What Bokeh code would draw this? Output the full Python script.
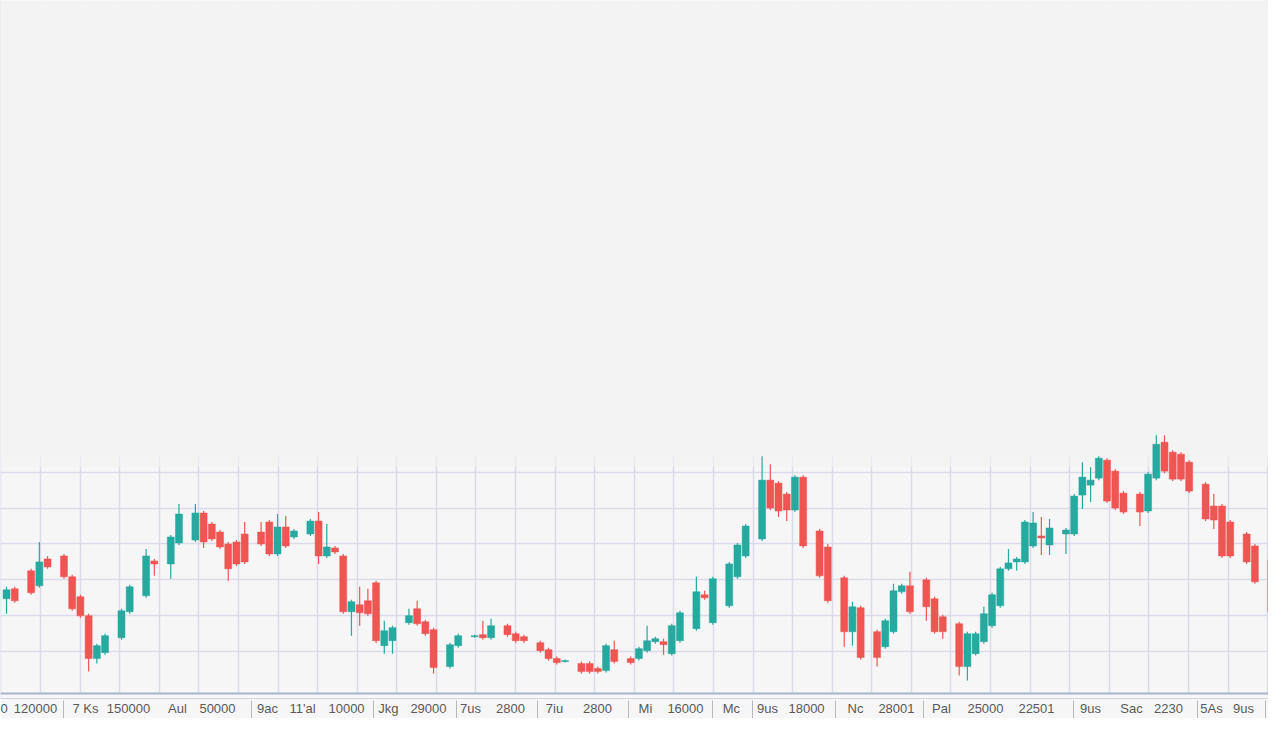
from bokeh.plotting import figure
from bokeh.models import Range1d, FixedTicker, BoxAnnotation, Span, ColumnDataSource
from bokeh.embed import file_html
from bokeh.resources import INLINE

# ---- data (session number, OHLC in price points) ----
session = [0, 1, 3, 4, 5, 7, 8, 9, 10, 11, 12, 14, 15, 17, 18, 20, 21, 23, 24, 25,
           26, 27, 28, 29, 31, 32, 33, 34, 35, 37, 38, 39, 40, 41, 42, 43, 44, 45, 46, 47,
           49, 50, 51, 52, 54, 55, 57, 58, 59, 61, 62, 63, 65, 66, 67, 68, 70, 71, 72, 73,
           74, 76, 77, 78, 79, 80, 81, 82, 84, 85, 86, 88, 89, 90, 92, 93, 94, 95, 96, 97,
           99, 100, 102, 103, 104, 106, 107, 108, 109, 110, 112, 113, 114, 116, 117, 118, 119, 120, 121, 122,
           123, 124, 125, 126, 127, 129, 130, 131, 132, 133, 134, 135, 136, 138, 139, 140, 141, 142, 143, 144,
           146, 147, 148, 149, 151, 152, 154, 155]

open_ = [100, 110, 128, 113, 140, 143, 122, 102, 83, 40,
         46, 61, 87, 103, 138, 135, 156, 159, 186, 175,
         167, 155, 157, 165, 167, 177, 145, 172, 162, 165,
         178, 143, 151, 143, 87, 94, 98, 116, 53, 58,
         76, 90, 77, 69, 32, 53, 62, 64, 61, 73,
         65, 62, 56, 49, 40, 37, 35, 35, 30, 28,
         49, 40, 40, 48, 57, 57, 45, 58, 70, 104,
         76, 93, 122, 143, 160, 219, 216, 205, 189, 222,
         168, 152, 121, 67, 91, 67, 52, 67, 107, 113,
         119, 100, 82, 75, 32, 45, 57, 73, 93, 130,
         137, 137, 153, 163, 154, 165, 165, 204, 214, 221,
         239, 228, 206, 205, 188, 221, 257, 247, 245, 237,
         215, 193, 193, 177, 165, 153, 139, 112]

close = [109, 98, 106, 137, 132, 122, 90, 83, 40, 53,
         63, 88, 112, 143, 135, 162, 185, 186, 157, 160,
         152, 130, 135, 137, 155, 145, 172, 153, 168, 178,
         143, 152, 147, 87, 97, 86, 85, 58, 68, 71,
         83, 75, 65, 31, 54, 63, 63, 61, 73, 64,
         58, 58, 48, 40, 36, 38, 27, 27, 27, 53,
         37, 36, 50, 58, 60, 54, 73, 86, 107, 101,
         120, 135, 154, 173, 219, 191, 188, 189, 222, 153,
         123, 98, 67, 92, 41, 41, 78, 108, 113, 87,
         92, 67, 67, 32, 65, 65, 85, 104, 130, 136,
         140, 177, 176, 161, 171, 169, 203, 222, 219, 241,
         198, 191, 187, 187, 225, 255, 228, 220, 220, 208,
         180, 179, 143, 143, 137, 117, 87, 57]

high = [112, 112, 130, 157, 143, 145, 124, 104, 85, 55,
        65, 90, 114, 150, 140, 164, 195, 195, 188, 177,
        169, 157, 159, 177, 177, 179, 185, 183, 170, 180,
        187, 175, 153, 145, 99, 112, 110, 118, 78, 73,
        90, 98, 79, 71, 56, 65, 64, 78, 80, 75,
        67, 64, 58, 51, 42, 39, 37, 37, 32, 55,
        58, 42, 52, 73, 62, 60, 75, 88, 122, 108,
        122, 137, 156, 175, 243, 235, 218, 207, 224, 224,
        170, 155, 123, 97, 93, 69, 80, 115, 115, 127,
        121, 102, 84, 77, 67, 67, 92, 106, 132, 150,
        142, 179, 187, 182, 180, 171, 205, 237, 232, 243,
        241, 230, 208, 207, 227, 264, 264, 249, 247, 239,
        217, 205, 195, 179, 167, 155, 141, 114]

low = [85, 96, 104, 111, 130, 120, 88, 81, 27, 35,
       44, 59, 85, 101, 123, 120, 154, 157, 151, 158,
       150, 118, 133, 135, 153, 143, 143, 151, 160, 163,
       135, 141, 145, 85, 63, 73, 83, 56, 45, 45,
       74, 73, 63, 25, 30, 51, 61, 59, 59, 62,
       56, 56, 46, 38, 34, 36, 25, 25, 25, 26,
       35, 34, 38, 46, 55, 44, 43, 56, 68, 99,
       74, 91, 120, 141, 158, 189, 182, 178, 187, 151,
       121, 96, 52, 53, 39, 32, 50, 65, 105, 85,
       78, 65, 60, 23, 18, 43, 55, 71, 91, 128,
       128, 135, 151, 144, 144, 145, 163, 190, 197, 219,
       196, 189, 185, 173, 186, 219, 226, 218, 218, 206,
       178, 170, 141, 141, 135, 115, 85, 52]

# bottom strip labels (as they appear) and their session positions
tick_pos = [-0.49, 3.53, 9.62, 14.85, 20.82, 25.69, 31.78, 36.04, 41.40, 46.51, 51.38,
            56.50, 61.37, 66.72, 71.96, 77.80, 82.67, 88.27, 92.66, 97.41, 103.37,
            108.36, 113.84, 119.20, 125.41, 131.99, 136.98, 141.48, 146.72, 150.61, 154.88]
tick_text = ["0", "120000", "7 Ks", "150000", "Aul", "50000", "9ac", "11'al", "10000", "Jkg", "29000",
             "7us", "2800", "7iu", "2800", "Mi", "16000", "Mc", "9us", "18000", "Nc",
             "28001", "Pal", "25000", "22501", "9us", "Sac", "2230", "5As", "9us", "9a"]
separator_pos = [6.94, 29.83, 44.69, 54.79, 64.65, 75.73, 85.96, 90.83, 100.94, 111.65,
                 129.92, 145.02, 153.29]

# ---- styling ----
UP = "#26a99f"
DOWN = "#ef5552"
colors = [UP if c >= o else DOWN for o, c in zip(open_, close)]
body_top = [max(o, c) for o, c in zip(open_, close)]
body_bot = [min(o, c) for o, c in zip(open_, close)]

src = ColumnDataSource(dict(x=session, high=high, low=low, top=body_top,
                            bottom=body_bot, color=colors))

p = figure(width=1268, height=718, output_backend="svg", toolbar_location=None,
           x_range=Range1d(-0.7306, 153.66), y_range=Range1d(0, 700),
           y_axis_location=None, min_border_left=0, min_border_right=0,
           min_border_top=0, min_border_bottom=18)
p.background_fill_color = "#f6f6f7"
p.border_fill_color = "#f6f6f7"
p.outline_line_color = None

# grid
p.xgrid.ticker = FixedTicker(ticks=[4.14 + 4.82 * k for k in range(-1, 33)])
p.ygrid.ticker = FixedTicker(ticks=[47 + 36 * k for k in range(6)])
p.xgrid.grid_line_color = "#d9dbea"
p.ygrid.grid_line_color = "#d9dbea"
p.xgrid.grid_line_width = 1.5
p.ygrid.grid_line_width = 1.5

# fade out top area and bottom strip (drawn above grid, below candles)
p.add_layout(BoxAnnotation(bottom=242, fill_color="#f3f3f3", fill_alpha=1.0,
                           line_alpha=0, level="underlay"))
p.add_layout(BoxAnnotation(bottom=232, top=242, fill_color="#f4f4f4", fill_alpha=0.6,
                           line_alpha=0, level="underlay"))
p.add_layout(BoxAnnotation(top=5, fill_color="#f7f7f8", fill_alpha=1.0,
                           line_alpha=0, level="underlay"))

# candles
p.segment(x0="x", y0="high", x1="x", y1="low", line_color="color", line_width=1.2, source=src)
p.vbar(x="x", width=0.85, top="top", bottom="bottom", fill_color="color",
       line_color="color", line_width=0.5, source=src)

# main baseline
p.add_layout(Span(location=5, dimension="width", line_color="#aab4c9", line_width=2))

# bottom axis: labels + separators
ax = p.xaxis[0]
ax.ticker = FixedTicker(ticks=tick_pos, minor_ticks=separator_pos)
ax.major_label_overrides = {pos: txt for pos, txt in zip(tick_pos, tick_text)}
ax.major_tick_line_color = None
ax.major_tick_in = 0
ax.major_tick_out = 0
ax.minor_tick_line_color = "#b8b8bc"
ax.minor_tick_line_width = 1
ax.minor_tick_in = -2
ax.minor_tick_out = 20
ax.axis_line_color = "#d2d5de"
ax.axis_line_width = 1
ax.major_label_standoff = -18
ax.major_label_text_font = "Liberation Sans"
ax.major_label_text_font_size = "13px"
ax.major_label_text_color = "#595959"

open("out.html", "w").write(file_html(p, INLINE))
